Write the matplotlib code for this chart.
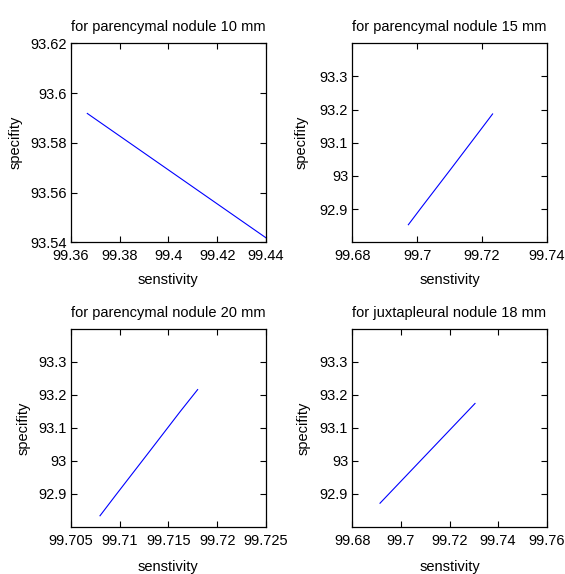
import matplotlib
matplotlib.use("Agg")
import matplotlib.pyplot as plt
from matplotlib import font_manager

names = {f.name for f in font_manager.fontManager.ttflist}
if 'Liberation Sans Narrow' in names:
    fam = ['Liberation Sans Narrow', 'DejaVu Sans']
    fs = 13
else:
    fam = ['Liberation Sans', 'DejaVu Sans']
    fs = 10.5
plt.rcParams['font.family'] = fam

# ---- data ----
titles = ["for parencymal nodule 10 mm", "for parencymal nodule 15 mm",
          "for parencymal nodule 20 mm", "for juxtapleural nodule 18 mm"]

x10 = [99.3668, 99.4400]
y10 = [93.5918, 93.5418]

x15 = [99.6973, 99.7014, 99.7105, 99.7192, 99.7233]
y15 = [92.853, 92.906, 93.022, 93.134, 93.187]

x20 = [99.7080, 99.7096, 99.7130, 99.7162, 99.7180]
y20 = [92.834, 92.896, 93.026, 93.149, 93.216]

x18 = [99.6914, 99.7305]
y18 = [92.872, 93.174]

xticks10 = [99.36, 99.38, 99.40, 99.42, 99.44]
xlabels10 = ["99.36", "99.38", "99.4", "99.42", "99.44"]
yticks10 = [93.54, 93.56, 93.58, 93.60, 93.62]
ylabels10 = ["93.54", "93.56", "93.58", "93.6", "93.62"]

xticks15 = [99.68, 99.70, 99.72, 99.74]
xlabels15 = ["99.68", "99.7", "99.72", "99.74"]

xticks20 = [99.705, 99.710, 99.715, 99.720, 99.725]
xlabels20 = ["99.705", "99.71", "99.715", "99.72", "99.725"]

xticks18 = [99.68, 99.70, 99.72, 99.74, 99.76]
xlabels18 = ["99.68", "99.7", "99.72", "99.74", "99.76"]

yticks_sp = [92.9, 93.0, 93.1, 93.2, 93.3]
ylabels_sp = ["92.9", "93", "93.1", "93.2", "93.3"]
ylim_sp = (92.8, 93.4)

W, H = 565, 574
fig = plt.figure(figsize=(W / 100, H / 100), dpi=100)

def rect(l, r, t, b):
    return [l / W, 1 - b / H, (r - l) / W, (b - t) / H]

panels = [
    (rect(70.7, 266.0, 43.3, 242.3), x10, y10, xticks10, xlabels10, yticks10, ylabels10, (93.54, 93.62), titles[0]),
    (rect(352.3, 546.7, 43.3, 242.3), x15, y15, xticks15, xlabels15, yticks_sp, ylabels_sp, ylim_sp, titles[1]),
    (rect(70.7, 266.0, 328.8, 527.0), x20, y20, xticks20, xlabels20, yticks_sp, ylabels_sp, ylim_sp, titles[2]),
    (rect(352.3, 546.7, 328.8, 527.0), x18, y18, xticks18, xlabels18, yticks_sp, ylabels_sp, ylim_sp, titles[3]),
]
ylab_x = [-0.246, -0.226, -0.208, -0.217]
xlab_y = [-0.155, -0.155, -0.165, -0.165]

for i, (r, xs, ys, xt, xl, yt, yl, ylim, ttl) in enumerate(panels):
    ax = fig.add_axes(r)
    ax.plot(xs, ys, color='#0000ff', lw=0.8)
    ax.set_xlim(xt[0], xt[-1])
    ax.set_ylim(*ylim)
    ax.set_xticks(xt)
    ax.set_xticklabels(xl)
    ax.set_yticks(yt)
    ax.set_yticklabels(yl)
    ax.tick_params(direction='in', top=True, right=True, length=4, width=0.8,
                   labelsize=fs, colors='black')
    ax.tick_params(axis='x', pad=5)
    ax.tick_params(axis='y', pad=3)
    for s in ax.spines.values():
        s.set_linewidth(0.9)
    ax.set_title(ttl, fontsize=fs, pad=8.5)
    ax.set_xlabel("senstivity", fontsize=fs)
    ax.set_ylabel("specifity", fontsize=fs)
    ax.xaxis.set_label_coords(0.5, xlab_y[i])
    ax.yaxis.set_label_coords(ylab_x[i], 0.5)

fig.savefig("out.png", dpi=100)
